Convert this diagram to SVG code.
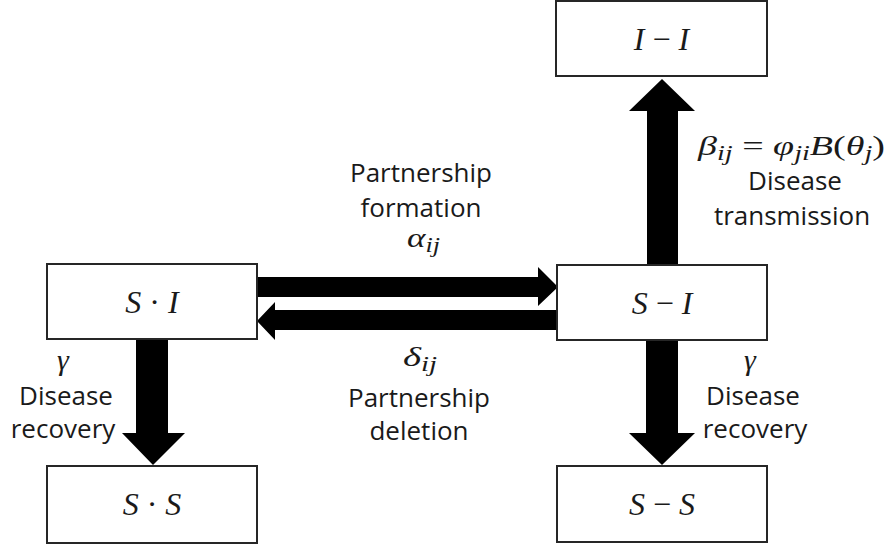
<svg xmlns="http://www.w3.org/2000/svg" width="892" height="548" viewBox="0 0 892 548">
<style>
.box{fill:#fff;stroke:#262626;stroke-width:2}
.arr{fill:#000}
.lbl{font-family:"Open Sans","Liberation Sans",sans-serif;font-size:26px;fill:#1a1a1a;text-anchor:middle}
.math{font-family:"Liberation Serif","DejaVu Serif",serif;font-size:32px;fill:#1a1a1a}
.mlbl{font-family:"Liberation Serif","DejaVu Serif",serif;font-size:27px;fill:#1a1a1a}
.gam{font-family:"Liberation Serif","DejaVu Serif",serif;font-size:30px;font-style:italic;fill:#1a1a1a;text-anchor:middle}
.it{font-style:italic}
.sub{font-style:italic;font-size:20px}
</style>
<rect width="892" height="548" fill="#fff"/>
<g id="connectors">
  <polygon id="e-transmission" class="arr" points="647,265 647,111 629,111 662,79 695,111 678,111 678,265"/>
  <polygon id="e-formation" class="arr" points="257,277 538,277 538,267 558,287 538,306 538,297 257,297"/>
  <polygon id="e-deletion" class="arr" points="557,310 275,310 275,302 257,321 275,340 275,330 557,330"/>
  <polygon id="e-recovery-left" class="arr" points="136,339 168,339 168,433 185,433 153,465 122,433 136,433"/>
  <polygon id="e-recovery-right" class="arr" points="646,340 678,340 678,433 695,433 662,465 629,433 646,433"/>
</g>
<g id="node-II">
  <rect class="box" x="556" y="1" width="211" height="75"/>
  <text class="math" x="661.5" y="50" text-anchor="middle"><tspan class="it">I</tspan> − <tspan class="it">I</tspan></text>
</g>
<g id="node-SdotI">
  <rect class="box" x="47" y="264" width="210" height="75"/>
  <text class="math" x="152" y="313" text-anchor="middle"><tspan class="it">S</tspan> · <tspan class="it">I</tspan></text>
</g>
<g id="node-SI">
  <rect class="box" x="557" y="265" width="210" height="75"/>
  <text class="math" x="662" y="314" text-anchor="middle"><tspan class="it">S</tspan> − <tspan class="it">I</tspan></text>
</g>
<g id="node-SdotS">
  <rect class="box" x="47" y="466" width="210" height="77"/>
  <text class="math" x="152" y="515" text-anchor="middle"><tspan class="it">S</tspan> · <tspan class="it">S</tspan></text>
</g>
<g id="node-SS">
  <rect class="box" x="557" y="466" width="210" height="76"/>
  <text class="math" x="662" y="515" text-anchor="middle"><tspan class="it">S</tspan> − <tspan class="it">S</tspan></text>
</g>
<g id="labels">
  <text class="lbl" x="421" y="182">Partnership</text>
  <text class="lbl" x="421" y="217">formation</text>
  <text class="mlbl" x="407" y="247" textLength="33" lengthAdjust="spacingAndGlyphs"><tspan class="it">α</tspan><tspan class="sub" dy="5">ij</tspan></text>

  <text class="mlbl" x="403" y="366" textLength="34" lengthAdjust="spacingAndGlyphs"><tspan class="it">δ</tspan><tspan class="sub" dy="5">ij</tspan></text>
  <text class="lbl" x="419" y="407">Partnership</text>
  <text class="lbl" x="419" y="440">deletion</text>

  <text class="mlbl" x="698" y="155" textLength="187" lengthAdjust="spacingAndGlyphs"><tspan class="it">β</tspan><tspan class="sub" dy="5">ij</tspan><tspan dy="-5"> = </tspan><tspan class="it">φ</tspan><tspan class="sub" dy="5">ji</tspan><tspan class="it" dy="-5">B</tspan>(<tspan class="it">θ</tspan><tspan class="sub" dy="5">j</tspan><tspan dy="-5">)</tspan></text>
  <text class="lbl" x="795" y="190">Disease</text>
  <text class="lbl" x="792" y="225">transmission</text>

  <text class="gam" x="63" y="370">γ</text>
  <text class="lbl" x="66" y="405">Disease</text>
  <text class="lbl" x="63" y="438">recovery</text>

  <text class="gam" x="750" y="370">γ</text>
  <text class="lbl" x="753" y="405">Disease</text>
  <text class="lbl" x="755" y="438">recovery</text>
</g>
</svg>
